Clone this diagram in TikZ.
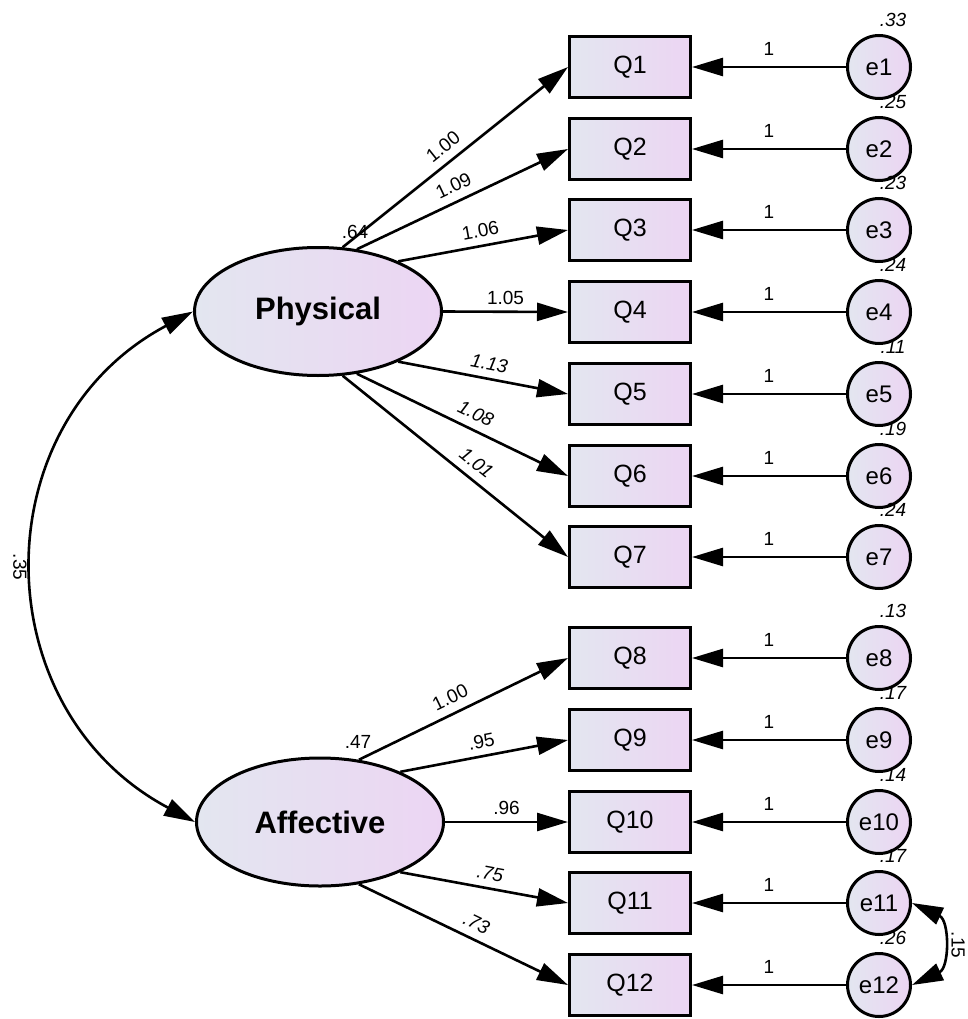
\documentclass[tikz,border=0pt]{standalone}
\usepackage{fontspec}
\setmainfont{Liberation Sans}
\usetikzlibrary{positioning,shapes.geometric,arrows.meta}
\definecolor{SEMLeft}{RGB}{227,230,240}
\definecolor{SEMRight}{RGB}{236,213,243}

\begin{document}
\begin{tikzpicture}[x=1pt,y=1pt,font=\fontsize{25pt}{27pt}\selectfont,
      obs/.style={draw,line width=3pt,left color=SEMLeft,right color=SEMRight,minimum width=121pt,minimum height=61pt,inner sep=0pt},
      lat/.style={ellipse,draw,line width=3pt,left color=SEMLeft,right color=SEMRight,minimum width=247pt,minimum height=128pt,inner sep=0pt,font=\fontsize{31pt}{33pt}\selectfont\bfseries},
      err/.style={circle,draw,line width=3pt,left color=SEMLeft,right color=SEMRight,minimum size=63pt,inner sep=0pt,font=\fontsize{24pt}{26pt}\selectfont},
      arr/.style={-{Triangle[length=31pt,width=18pt]},line width=2.6pt},
      cov/.style={{Triangle[length=31pt,width=18pt]}-{Triangle[length=31pt,width=18pt]},line width=2.6pt},
      coef/.style={font=\fontsize{19pt}{21pt}\selectfont,inner sep=3pt},
      icoef/.style={coef,font=\fontsize{19pt}{21pt}\selectfont\itshape},
      var/.style={font=\fontsize{19pt}{21pt}\selectfont\itshape,inner sep=0pt}]
      \useasboundingbox (0,0) rectangle (968,-1019);
      % latent factors
      \node[lat] (phy) at (318,-311.5) {Physical};
      \node[lat] (aff) at (320,-822) {Affective};
      \node[coef] (vphy) at (355,-232) {.64};
      \node[coef] (vaff) at (358,-742) {.47};
      % items
      \node[obs] (q1) at (630,-67) {Q1};   \node[obs] (q2) at (630,-149) {Q2};
      \node[obs] (q3) at (630,-230) {Q3};  \node[obs] (q4) at (630,-312) {Q4};
      \node[obs] (q5) at (630,-394) {Q5};  \node[obs] (q6) at (630,-476) {Q6};
      \node[obs] (q7) at (630,-557) {Q7};  \node[obs] (q8) at (630,-658) {Q8};
      \node[obs] (q9) at (630,-740) {Q9};  \node[obs] (q10) at (630,-822) {Q10};
      \node[obs] (q11) at (630,-903) {Q11}; \node[obs] (q12) at (630,-985) {Q12};
      % errors
      \node[err] (e1) at (879,-67) {e1};   \node[err] (e2) at (879,-149) {e2};
      \node[err] (e3) at (879,-230) {e3};  \node[err] (e4) at (879,-312) {e4};
      \node[err] (e5) at (879,-394) {e5};  \node[err] (e6) at (879,-476) {e6};
      \node[err] (e7) at (879,-557) {e7};  \node[err] (e8) at (879,-658) {e8};
      \node[err] (e9) at (879,-740) {e9};  \node[err] (e10) at (879,-822) {e10};
      \node[err] (e11) at (879,-903) {e11}; \node[err] (e12) at (879,-985) {e12};
      \node[var] (v1) at (893,-20) {.33};   \node[var] (v2) at (893,-102) {.25};
      \node[var] (v3) at (893,-183) {.23};  \node[var] (v4) at (893,-265) {.24};
      \node[var] (v5) at (893,-347) {.11};  \node[var] (v6) at (893,-429) {.19};
      \node[var] (v7) at (893,-510) {.24};  \node[var] (v8) at (893,-611) {.13};
      \node[var] (v9) at (893,-693) {.17};  \node[var] (v10) at (893,-775) {.14};
      \node[var] (v11) at (893,-856) {.17}; \node[var] (v12) at (893,-938) {.26};
      % loadings
      \draw[arr] (phy.69.5) -- node[coef,pos=0.49,sloped,above=5pt] {1.00} (q1.west);
      \draw[arr] (phy.58) -- node[coef,pos=0.49,sloped,above=5pt] {1.09} (q2.west);
      \draw[arr] (phy.32) -- node[coef,pos=0.5,sloped,above=4pt] {1.06} (q3.west);
      \draw[arr] (phy.east) -- node[coef,pos=0.5,above=3pt] {1.05} (q4.west);
      \draw[arr] (phy.-32) -- node[icoef,pos=0.52,sloped,above=4pt] {1.13} (q5.west);
      \draw[arr] (phy.-58) -- node[icoef,pos=0.53,sloped,above=5pt] {1.08} (q6.west);
      \draw[arr] (phy.-69.5) -- node[icoef,pos=0.55,sloped,above=5pt] {1.01} (q7.west);
      \draw[arr] (aff.58) -- node[coef,pos=0.47,sloped,above=5pt] {1.00} (q8.west);
      \draw[arr] (aff.32) -- node[coef,pos=0.5,sloped,above=4pt] {.95} (q9.west);
      \draw[arr] (aff.east) -- node[coef,pos=0.5,above=3pt] {.96} (q10.west);
      \draw[arr] (aff.-32) -- node[icoef,pos=0.52,sloped,above=4pt] {.75} (q11.west);
      \draw[arr] (aff.-58) -- node[icoef,pos=0.53,sloped,above=5pt] {.73} (q12.west);
      % error paths
      \draw[arr] (e1) -- node[coef,above=7pt] {1} (q1);   \draw[arr] (e2) -- node[coef,above=7pt] {1} (q2);
      \draw[arr] (e3) -- node[coef,above=7pt] {1} (q3);   \draw[arr] (e4) -- node[coef,above=7pt] {1} (q4);
      \draw[arr] (e5) -- node[coef,above=7pt] {1} (q5);   \draw[arr] (e6) -- node[coef,above=7pt] {1} (q6);
      \draw[arr] (e7) -- node[coef,above=7pt] {1} (q7);   \draw[arr] (e8) -- node[coef,above=7pt] {1} (q8);
      \draw[arr] (e9) -- node[coef,above=7pt] {1} (q9);   \draw[arr] (e10) -- node[coef,above=7pt] {1} (q10);
      \draw[arr] (e11) -- node[coef,above=7pt] {1} (q11); \draw[arr] (e12) -- node[coef,above=7pt] {1} (q12);
      % covariances
      \draw[cov] (phy.west) to[out=208,in=152,looseness=1.2] (aff.west);
      \node[coef,rotate=-90] (c35) at (20,-567) {.35};
      \draw[cov] (e11.east) to[out=-25,in=25,looseness=1.3] (e12.east);
      \node[coef,rotate=-90] (c15) at (958,-945) {.15};
    \end{tikzpicture}
\end{document}
